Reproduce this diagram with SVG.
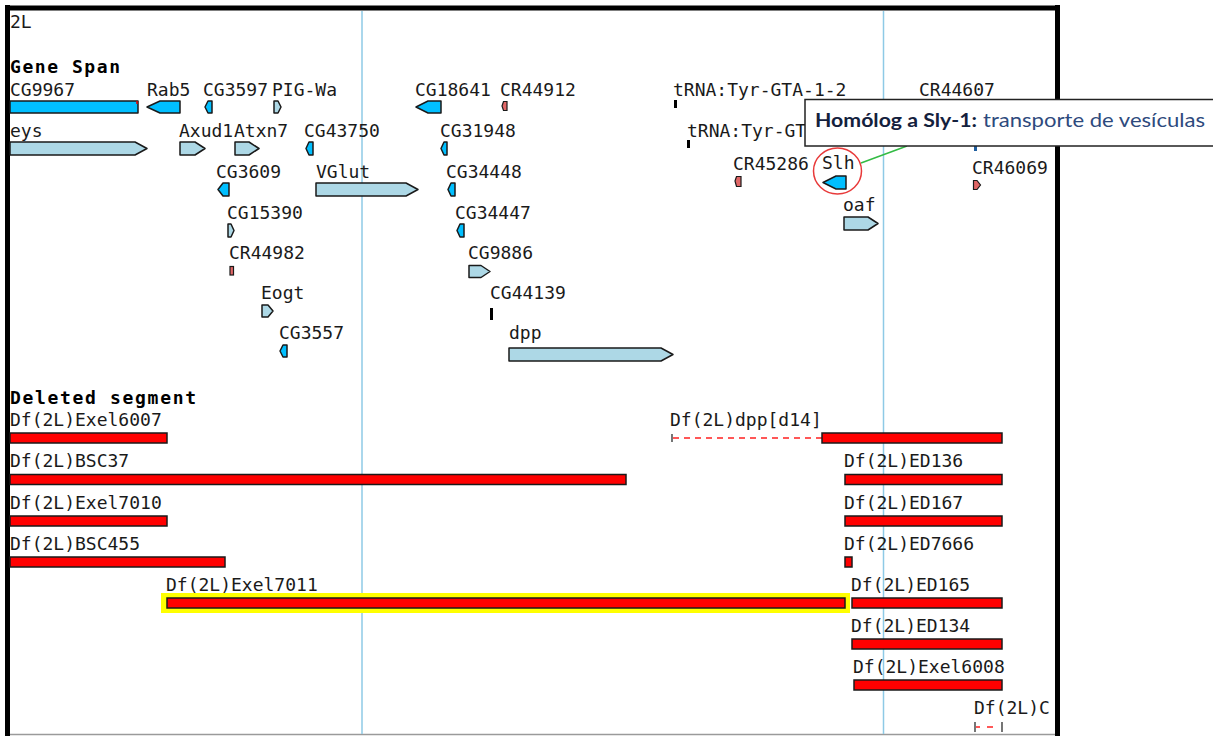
<svg xmlns="http://www.w3.org/2000/svg" width="1213" height="736" viewBox="0 0 1213 736">
  <style>
    .lbl { font-family: "DejaVu Sans Mono", "Liberation Mono", monospace; font-size: 18px; fill: #1a1a1a; }
    .hdr { font-family: "DejaVu Sans Mono", "Liberation Mono", monospace; font-size: 18px; font-weight: bold; fill: #000; }
    .dk { fill: #00bfff; stroke: #1a1a1a; stroke-width: 1.5; stroke-linejoin: round; }
    .lt { fill: #add8e6; stroke: #1a1a1a; stroke-width: 1.5; stroke-linejoin: round; }
    .nc { fill: #e06666; stroke: #1a1a1a; stroke-width: 1.2; }
    .tr { fill: #000; }
    .del { fill: #ff0000; stroke: #1a1a1a; stroke-width: 1.5; }
    .guide { stroke: #8ecae6; stroke-width: 1.5; }
    .tip-b { font-family: "Lato", "Open Sans", sans-serif; font-size: 19px; font-weight: bold; fill: #14213d; }
    .tip-r { font-family: "Lato", "Open Sans", sans-serif; font-size: 19px; fill: #2e4a7d; }
  </style>

  <rect x="0" y="0" width="1213" height="736" fill="#ffffff"/>

  <!-- track frame -->
  <g id="frame">
    <line x1="7.5" y1="5" x2="7.5" y2="736" stroke="#000" stroke-width="5"/>
    <line x1="5" y1="8" x2="1060" y2="8" stroke="#000" stroke-width="5"/>
    <line x1="1057.5" y1="5" x2="1057.5" y2="736" stroke="#000" stroke-width="5"/>
    <line x1="10" y1="734.5" x2="1055" y2="734.5" stroke="#9a9a9a" stroke-width="1.5"/>
    <line class="guide" x1="362" y1="11" x2="362" y2="734"/>
    <line class="guide" x1="883.5" y1="11" x2="883.5" y2="734"/>
    <text class="lbl" x="10" y="28">2L</text>
    <text class="hdr" x="10" y="73" textLength="110" lengthAdjust="spacing">Gene Span</text>
    <text class="hdr" x="10" y="404" textLength="186" lengthAdjust="spacing">Deleted segment</text>
  </g>

  <!-- gene span track -->
  <g id="CG9967"><text class="lbl" x="10" y="96">CG9967</text><rect class="dk" x="10" y="101" width="128" height="12"/><line x1="137" y1="101" x2="137" y2="104" stroke="#e00" stroke-width="1.5"/></g>
  <g id="Rab5"><text class="lbl" x="147" y="96">Rab5</text><polygon class="dk" points="147,107 160,101 180,101 180,113 160,113"/></g>
  <g id="CG3597"><text class="lbl" x="203" y="96">CG3597</text><polygon class="dk" points="205,107 208,101 212,101 212,113 208,113"/></g>
  <g id="PIG-Wa"><text class="lbl" x="272" y="96">PIG-Wa</text><polygon class="lt" points="274,101 278,101 281,107 278,113 274,113"/></g>
  <g id="CG18641"><text class="lbl" x="415" y="96">CG18641</text><polygon class="dk" points="416,107 428,101 441,101 441,113 428,113"/></g>
  <g id="CR44912"><text class="lbl" x="500" y="96">CR44912</text><polygon class="nc" points="502,106 503.5,101.5 507,101.5 507,110.5 503.5,110.5"/></g>
  <g id="tRNA-Tyr-GTA-1-2"><text class="lbl" x="673" y="96">tRNA:Tyr-GTA-1-2</text><rect class="tr" x="674" y="100" width="3" height="8"/></g>
  <g id="CR44607"><text class="lbl" x="919" y="96">CR44607</text></g>

  <g id="eys"><text class="lbl" x="10" y="137">eys</text><polygon class="lt" points="10,142 135,142 147,148.5 135,155 10,155"/></g>
  <g id="Axud1"><text class="lbl" x="179" y="137">Axud1</text><polygon class="lt" points="180,142 195,142 205,148.5 195,155 180,155"/></g>
  <g id="Atxn7"><text class="lbl" x="234" y="137">Atxn7</text><polygon class="lt" points="235,142 249,142 259,148.5 249,155 235,155"/></g>
  <g id="CG43750"><text class="lbl" x="304" y="137">CG43750</text><polygon class="dk" points="306,148.5 309,142 313,142 313,155 309,155"/></g>
  <g id="CG31948"><text class="lbl" x="440" y="137">CG31948</text><polygon class="dk" points="441,148.5 444,142 447,142 447,155 444,155"/></g>
  <g id="tRNA-Tyr-GT"><text class="lbl" x="687" y="137">tRNA:Tyr-GT</text><rect class="tr" x="687" y="140" width="3" height="8"/></g>

  <g id="CG3609"><text class="lbl" x="216" y="178">CG3609</text><polygon class="dk" points="218,189.5 223,183 229,183 229,196 223,196"/></g>
  <g id="VGlut"><text class="lbl" x="316" y="178">VGlut</text><polygon class="lt" points="316,183 406,183 418,189.5 406,196 316,196"/></g>
  <g id="CG34448"><text class="lbl" x="446" y="178">CG34448</text><polygon class="dk" points="448,189.5 451,183 455,183 455,196 451,196"/></g>
  <g id="CR45286"><text class="lbl" x="733" y="170">CR45286</text><polygon class="nc" points="735,181 736.5,176.5 741,176.5 741,186.5 736.5,186.5"/></g>
  <g id="Slh"><text class="lbl" x="822" y="169">Slh</text><polygon class="dk" points="823,182.5 836,176 846,176 846,189 836,189"/></g>
  <g id="CR46069"><text class="lbl" x="972" y="174">CR46069</text><polygon class="nc" points="973.5,180.5 977,180.5 980.5,185 977,189.5 973.5,189.5"/></g>
  <g id="feature-975"><rect x="974" y="146" width="3" height="5" fill="#1f5fa0"/></g>

  <g id="CG15390"><text class="lbl" x="227" y="219">CG15390</text><polygon class="lt" points="228,224 231,224 234,230.5 231,237 228,237"/></g>
  <g id="CG34447"><text class="lbl" x="455" y="219">CG34447</text><polygon class="dk" points="457,230.5 460,224 464,224 464,237 460,237"/></g>
  <g id="oaf"><text class="lbl" x="843" y="211">oaf</text><polygon class="lt" points="844,217 868,217 878,223.5 868,230 844,230"/></g>

  <g id="CR44982"><text class="lbl" x="229" y="259">CR44982</text><rect class="nc" x="230" y="266.5" width="3.5" height="8.5"/></g>
  <g id="CG9886"><text class="lbl" x="468" y="259">CG9886</text><polygon class="lt" points="469,265.5 481,265.5 490,271.5 481,277.5 469,277.5"/></g>

  <g id="Eogt"><text class="lbl" x="261" y="299">Eogt</text><polygon class="lt" points="262,305 268,305 273,311 268,317 262,317"/></g>
  <g id="CG44139"><text class="lbl" x="490" y="299">CG44139</text><rect class="tr" x="490" y="308" width="3" height="12"/></g>

  <g id="CG3557"><text class="lbl" x="279" y="339">CG3557</text><polygon class="dk" points="280,351 283,345 287,345 287,357 283,357"/></g>
  <g id="dpp"><text class="lbl" x="509" y="339">dpp</text><polygon class="lt" points="509,348 661,348 673,354.5 661,361 509,361"/></g>

  <!-- deleted segment track -->
  <g id="Df2L-Exel6007"><text class="lbl" x="10" y="426">Df(2L)Exel6007</text><rect class="del" x="10" y="433" width="157" height="10"/></g>
  <g id="Df2L-BSC37"><text class="lbl" x="10" y="467">Df(2L)BSC37</text><rect class="del" x="10" y="474.5" width="616" height="10"/></g>
  <g id="Df2L-Exel7010"><text class="lbl" x="10" y="509">Df(2L)Exel7010</text><rect class="del" x="10" y="516" width="157" height="10"/></g>
  <g id="Df2L-BSC455"><text class="lbl" x="10" y="550">Df(2L)BSC455</text><rect class="del" x="10" y="557" width="215" height="10"/></g>
  <g id="Df2L-Exel7011">
    <text class="lbl" x="166" y="591">Df(2L)Exel7011</text>
    <rect x="161" y="593" width="689" height="20" fill="#ffff00"/>
    <rect class="del" x="167" y="598" width="678" height="10"/>
  </g>
  <g id="Df2L-dpp-d14">
    <text class="lbl" x="670" y="426">Df(2L)dpp[d14]</text>
    <line x1="672" y1="434" x2="672" y2="442" stroke="#1a1a1a" stroke-width="1.2"/>
    <line x1="673" y1="438" x2="822" y2="438" stroke="#ff2020" stroke-width="1.5" stroke-dasharray="6,5"/>
    <rect class="del" x="822" y="433" width="180" height="10"/>
  </g>
  <g id="Df2L-ED136"><text class="lbl" x="844" y="467">Df(2L)ED136</text><rect class="del" x="845" y="474.5" width="157" height="10"/></g>
  <g id="Df2L-ED167"><text class="lbl" x="844" y="509">Df(2L)ED167</text><rect class="del" x="845" y="516" width="157" height="10"/></g>
  <g id="Df2L-ED7666"><text class="lbl" x="844" y="550">Df(2L)ED7666</text><rect class="del" x="845" y="557" width="7" height="10"/></g>
  <g id="Df2L-ED165"><text class="lbl" x="851" y="591">Df(2L)ED165</text><rect class="del" x="852" y="598" width="150" height="10"/></g>
  <g id="Df2L-ED134"><text class="lbl" x="851" y="632">Df(2L)ED134</text><rect class="del" x="852" y="639" width="150" height="10"/></g>
  <g id="Df2L-Exel6008"><text class="lbl" x="853" y="673">Df(2L)Exel6008</text><rect class="del" x="854" y="680" width="148" height="10"/></g>
  <g id="Df2L-C">
    <text class="lbl" x="974" y="714">Df(2L)C</text>
    <line x1="975" y1="722" x2="975" y2="732" stroke="#1a1a1a" stroke-width="1.2"/>
    <line x1="976" y1="727" x2="980" y2="727" stroke="#ff2020" stroke-width="1.5"/>
    <line x1="987" y1="727" x2="993" y2="727" stroke="#ff2020" stroke-width="1.5"/>
    <line x1="1002" y1="722" x2="1002" y2="732" stroke="#1a1a1a" stroke-width="1.2"/>
  </g>

  <!-- annotation: highlight ring, leader line and note -->
  <g id="connectors">
    <line x1="861" y1="163" x2="907" y2="146" stroke="#33bb44" stroke-width="1.5"/>
  </g>
  <g id="Slh-ring"><ellipse cx="837.5" cy="171" rx="24" ry="23" fill="none" stroke="#e83a3a" stroke-width="1.5"/></g>
  <g id="note">
    <rect x="805" y="99.5" width="420" height="46.5" fill="#ffffff" stroke="#222" stroke-width="1.5"/>
    <text class="tip-b" x="815" y="127" textLength="162" lengthAdjust="spacingAndGlyphs">Homólog a Sly-1:</text>
    <text class="tip-r" x="983" y="127" textLength="222" lengthAdjust="spacingAndGlyphs">transporte de vesículas</text>
  </g>
</svg>
